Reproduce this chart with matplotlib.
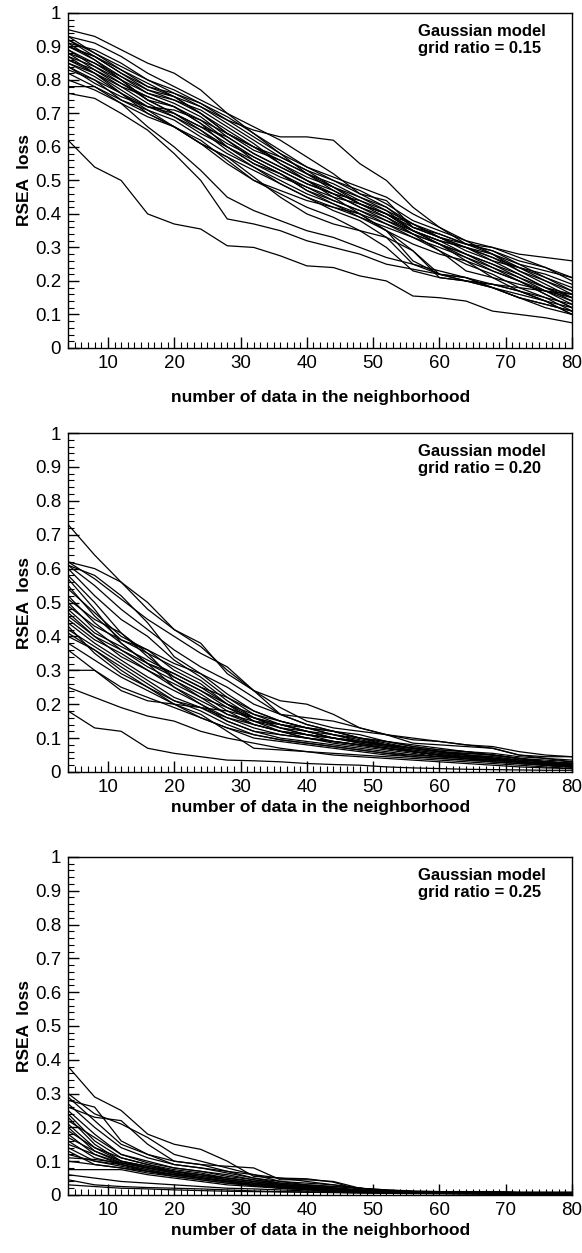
import numpy as np
import matplotlib
matplotlib.use("Agg")
import matplotlib.pyplot as plt
from matplotlib.ticker import MultipleLocator

plt.rcParams['font.family'] = ['Liberation Sans', 'DejaVu Sans']

# neighbourhood sizes (x) shared by all curves
n_data = [4, 8, 12, 16, 20, 24, 28, 32, 36, 40, 44, 48, 52, 56, 60, 64, 68, 72, 76, 80]

# grid ratio = 0.15
loss_015 = [
    [0.95, 0.93, 0.89, 0.85, 0.82, 0.77, 0.70, 0.66, 0.62, 0.57, 0.52, 0.46, 0.44, 0.36, 0.33, 0.31, 0.30, 0.28, 0.27, 0.26],
    [0.62, 0.54, 0.50, 0.40, 0.37, 0.355, 0.305, 0.30, 0.275, 0.245, 0.24, 0.215, 0.20, 0.155, 0.15, 0.14, 0.11, 0.10, 0.09, 0.075],
    [0.76, 0.745, 0.70, 0.65, 0.58, 0.50, 0.385, 0.37, 0.35, 0.32, 0.30, 0.28, 0.25, 0.235, 0.22, 0.20, 0.18, 0.15, 0.12, 0.10],
    [0.78, 0.78, 0.73, 0.66, 0.60, 0.53, 0.45, 0.41, 0.38, 0.35, 0.33, 0.30, 0.27, 0.25, 0.23, 0.21, 0.18, 0.15, 0.13, 0.11],
    [0.93, 0.88, 0.83, 0.78, 0.75, 0.70, 0.65, 0.60, 0.56, 0.52, 0.48, 0.44, 0.41, 0.37, 0.33, 0.30, 0.26, 0.22, 0.18, 0.15],
    [0.90, 0.86, 0.81, 0.76, 0.73, 0.69, 0.63, 0.58, 0.54, 0.50, 0.47, 0.43, 0.40, 0.35, 0.32, 0.28, 0.25, 0.21, 0.17, 0.13],
    [0.88, 0.83, 0.79, 0.75, 0.72, 0.67, 0.62, 0.57, 0.53, 0.49, 0.46, 0.42, 0.39, 0.34, 0.31, 0.27, 0.23, 0.20, 0.16, 0.12],
    [0.92, 0.87, 0.82, 0.77, 0.74, 0.71, 0.66, 0.61, 0.55, 0.51, 0.48, 0.45, 0.42, 0.36, 0.34, 0.31, 0.29, 0.25, 0.21, 0.17],
    [0.86, 0.82, 0.77, 0.72, 0.69, 0.64, 0.60, 0.55, 0.52, 0.48, 0.44, 0.41, 0.37, 0.33, 0.29, 0.25, 0.22, 0.18, 0.15, 0.11],
    [0.84, 0.80, 0.74, 0.70, 0.66, 0.61, 0.57, 0.53, 0.49, 0.45, 0.41, 0.38, 0.33, 0.25, 0.22, 0.21, 0.19, 0.17, 0.15, 0.13],
    [0.91, 0.89, 0.85, 0.80, 0.76, 0.72, 0.67, 0.62, 0.57, 0.53, 0.50, 0.47, 0.43, 0.38, 0.35, 0.32, 0.30, 0.27, 0.24, 0.20],
    [0.89, 0.85, 0.80, 0.76, 0.74, 0.70, 0.64, 0.59, 0.56, 0.52, 0.49, 0.45, 0.41, 0.35, 0.31, 0.26, 0.21, 0.17, 0.14, 0.10],
    [0.87, 0.84, 0.80, 0.74, 0.70, 0.66, 0.63, 0.58, 0.54, 0.50, 0.45, 0.40, 0.35, 0.29, 0.21, 0.20, 0.18, 0.15, 0.13, 0.11],
    [0.93, 0.91, 0.87, 0.82, 0.78, 0.74, 0.70, 0.64, 0.58, 0.54, 0.50, 0.46, 0.42, 0.37, 0.33, 0.30, 0.27, 0.24, 0.22, 0.19],
    [0.82, 0.78, 0.74, 0.71, 0.68, 0.63, 0.58, 0.54, 0.50, 0.46, 0.43, 0.40, 0.37, 0.34, 0.31, 0.28, 0.24, 0.20, 0.17, 0.14],
    [0.90, 0.87, 0.83, 0.79, 0.75, 0.70, 0.64, 0.60, 0.57, 0.53, 0.48, 0.43, 0.39, 0.35, 0.32, 0.30, 0.27, 0.23, 0.19, 0.15],
    [0.85, 0.81, 0.76, 0.72, 0.70, 0.66, 0.61, 0.57, 0.53, 0.49, 0.46, 0.44, 0.40, 0.35, 0.31, 0.28, 0.25, 0.22, 0.18, 0.14],
    [0.91, 0.86, 0.80, 0.74, 0.70, 0.65, 0.60, 0.56, 0.52, 0.47, 0.43, 0.39, 0.35, 0.31, 0.28, 0.26, 0.23, 0.20, 0.16, 0.12],
    [0.88, 0.85, 0.81, 0.77, 0.75, 0.72, 0.68, 0.63, 0.58, 0.52, 0.47, 0.43, 0.40, 0.36, 0.33, 0.29, 0.26, 0.24, 0.21, 0.18],
    [0.86, 0.83, 0.78, 0.73, 0.69, 0.65, 0.59, 0.54, 0.49, 0.45, 0.42, 0.39, 0.36, 0.33, 0.30, 0.27, 0.24, 0.21, 0.18, 0.16],
    [0.92, 0.88, 0.84, 0.80, 0.77, 0.73, 0.68, 0.65, 0.63, 0.63, 0.62, 0.55, 0.50, 0.42, 0.36, 0.31, 0.28, 0.24, 0.20, 0.16],
    [0.80, 0.77, 0.73, 0.69, 0.66, 0.62, 0.56, 0.50, 0.46, 0.42, 0.39, 0.35, 0.30, 0.23, 0.21, 0.20, 0.19, 0.18, 0.17, 0.16],
    [0.84, 0.79, 0.75, 0.72, 0.71, 0.68, 0.64, 0.60, 0.55, 0.50, 0.46, 0.42, 0.38, 0.34, 0.29, 0.23, 0.21, 0.19, 0.17, 0.15],
    [0.89, 0.84, 0.79, 0.74, 0.72, 0.68, 0.62, 0.56, 0.52, 0.47, 0.44, 0.41, 0.38, 0.35, 0.32, 0.30, 0.28, 0.25, 0.23, 0.21],
    [0.87, 0.82, 0.76, 0.70, 0.66, 0.61, 0.55, 0.50, 0.47, 0.44, 0.42, 0.40, 0.35, 0.26, 0.22, 0.21, 0.18, 0.16, 0.14, 0.12],
    [0.90, 0.87, 0.82, 0.78, 0.76, 0.73, 0.69, 0.64, 0.59, 0.54, 0.51, 0.48, 0.45, 0.40, 0.36, 0.32, 0.28, 0.23, 0.20, 0.17],
    [0.83, 0.80, 0.76, 0.71, 0.66, 0.61, 0.57, 0.51, 0.45, 0.40, 0.37, 0.35, 0.33, 0.29, 0.22, 0.20, 0.19, 0.17, 0.14, 0.10],
    [0.85, 0.82, 0.78, 0.75, 0.72, 0.67, 0.60, 0.55, 0.51, 0.48, 0.45, 0.43, 0.40, 0.37, 0.34, 0.31, 0.29, 0.26, 0.24, 0.21],
]

# grid ratio = 0.20
loss_020 = [
    [0.73, 0.64, 0.56, 0.48, 0.42, 0.38, 0.29, 0.24, 0.21, 0.20, 0.17, 0.13, 0.11, 0.085, 0.08, 0.075, 0.07, 0.05, 0.045, 0.045],
    [0.18, 0.13, 0.12, 0.07, 0.055, 0.045, 0.035, 0.033, 0.03, 0.025, 0.022, 0.02, 0.015, 0.012, 0.01, 0.008, 0.007, 0.006, 0.005, 0.005],
    [0.25, 0.22, 0.19, 0.165, 0.15, 0.12, 0.10, 0.085, 0.07, 0.06, 0.05, 0.045, 0.04, 0.035, 0.03, 0.025, 0.02, 0.015, 0.012, 0.01],
    [0.30, 0.30, 0.25, 0.22, 0.19, 0.16, 0.13, 0.11, 0.095, 0.085, 0.075, 0.065, 0.055, 0.045, 0.04, 0.035, 0.03, 0.025, 0.02, 0.015],
    [0.62, 0.60, 0.56, 0.50, 0.42, 0.37, 0.30, 0.24, 0.17, 0.16, 0.15, 0.13, 0.11, 0.095, 0.09, 0.08, 0.07, 0.05, 0.04, 0.03],
    [0.61, 0.58, 0.52, 0.44, 0.34, 0.29, 0.23, 0.18, 0.15, 0.13, 0.11, 0.09, 0.08, 0.07, 0.06, 0.05, 0.04, 0.03, 0.025, 0.02],
    [0.60, 0.52, 0.45, 0.40, 0.33, 0.28, 0.22, 0.17, 0.14, 0.12, 0.10, 0.09, 0.075, 0.065, 0.055, 0.045, 0.04, 0.03, 0.025, 0.02],
    [0.55, 0.46, 0.39, 0.35, 0.31, 0.27, 0.21, 0.16, 0.13, 0.12, 0.11, 0.10, 0.08, 0.06, 0.05, 0.045, 0.04, 0.03, 0.025, 0.02],
    [0.52, 0.44, 0.38, 0.32, 0.28, 0.24, 0.19, 0.15, 0.13, 0.11, 0.09, 0.08, 0.07, 0.06, 0.05, 0.04, 0.035, 0.03, 0.025, 0.02],
    [0.50, 0.42, 0.36, 0.31, 0.27, 0.23, 0.18, 0.14, 0.12, 0.10, 0.09, 0.08, 0.07, 0.06, 0.05, 0.045, 0.04, 0.03, 0.02, 0.015],
    [0.48, 0.41, 0.37, 0.33, 0.29, 0.25, 0.20, 0.16, 0.14, 0.12, 0.10, 0.085, 0.075, 0.065, 0.055, 0.05, 0.045, 0.035, 0.03, 0.025],
    [0.47, 0.40, 0.34, 0.30, 0.26, 0.22, 0.19, 0.16, 0.13, 0.11, 0.10, 0.09, 0.08, 0.07, 0.06, 0.05, 0.04, 0.03, 0.025, 0.02],
    [0.45, 0.39, 0.35, 0.30, 0.25, 0.21, 0.17, 0.14, 0.12, 0.11, 0.10, 0.085, 0.07, 0.06, 0.05, 0.04, 0.035, 0.03, 0.02, 0.015],
    [0.44, 0.38, 0.33, 0.28, 0.24, 0.20, 0.16, 0.13, 0.11, 0.10, 0.085, 0.075, 0.065, 0.055, 0.045, 0.04, 0.03, 0.025, 0.02, 0.015],
    [0.42, 0.37, 0.32, 0.27, 0.22, 0.19, 0.15, 0.12, 0.10, 0.09, 0.08, 0.07, 0.06, 0.05, 0.045, 0.04, 0.035, 0.03, 0.025, 0.02],
    [0.40, 0.36, 0.31, 0.26, 0.21, 0.18, 0.14, 0.11, 0.095, 0.085, 0.075, 0.065, 0.055, 0.05, 0.045, 0.04, 0.035, 0.03, 0.025, 0.02],
    [0.38, 0.33, 0.28, 0.24, 0.20, 0.16, 0.13, 0.10, 0.09, 0.08, 0.07, 0.06, 0.05, 0.045, 0.04, 0.035, 0.03, 0.025, 0.02, 0.015],
    [0.58, 0.50, 0.41, 0.34, 0.28, 0.24, 0.20, 0.17, 0.15, 0.13, 0.12, 0.10, 0.09, 0.075, 0.065, 0.06, 0.05, 0.04, 0.03, 0.025],
    [0.54, 0.47, 0.40, 0.36, 0.32, 0.29, 0.25, 0.20, 0.17, 0.14, 0.12, 0.10, 0.085, 0.07, 0.06, 0.055, 0.05, 0.04, 0.035, 0.03],
    [0.49, 0.43, 0.39, 0.36, 0.30, 0.26, 0.20, 0.15, 0.12, 0.10, 0.09, 0.08, 0.07, 0.06, 0.05, 0.045, 0.04, 0.035, 0.03, 0.025],
    [0.46, 0.40, 0.36, 0.32, 0.29, 0.25, 0.22, 0.18, 0.15, 0.13, 0.11, 0.095, 0.08, 0.07, 0.06, 0.055, 0.05, 0.04, 0.03, 0.025],
    [0.43, 0.35, 0.29, 0.25, 0.21, 0.19, 0.16, 0.14, 0.12, 0.11, 0.10, 0.09, 0.08, 0.07, 0.06, 0.05, 0.045, 0.035, 0.03, 0.025],
    [0.57, 0.48, 0.38, 0.32, 0.25, 0.20, 0.15, 0.12, 0.11, 0.10, 0.09, 0.08, 0.07, 0.06, 0.05, 0.04, 0.035, 0.03, 0.02, 0.015],
    [0.51, 0.45, 0.41, 0.35, 0.27, 0.22, 0.17, 0.15, 0.14, 0.13, 0.12, 0.10, 0.09, 0.075, 0.065, 0.06, 0.055, 0.045, 0.04, 0.035],
    [0.61, 0.55, 0.48, 0.42, 0.36, 0.31, 0.27, 0.22, 0.17, 0.14, 0.12, 0.11, 0.09, 0.08, 0.07, 0.06, 0.05, 0.04, 0.03, 0.025],
    [0.41, 0.36, 0.30, 0.25, 0.20, 0.17, 0.12, 0.07, 0.065, 0.06, 0.055, 0.05, 0.045, 0.04, 0.035, 0.03, 0.025, 0.02, 0.015, 0.01],
    [0.62, 0.57, 0.51, 0.45, 0.40, 0.35, 0.31, 0.24, 0.19, 0.15, 0.13, 0.12, 0.11, 0.10, 0.09, 0.08, 0.075, 0.06, 0.05, 0.045],
    [0.36, 0.30, 0.24, 0.21, 0.20, 0.19, 0.18, 0.16, 0.14, 0.12, 0.10, 0.09, 0.08, 0.07, 0.06, 0.05, 0.04, 0.03, 0.025, 0.02],
]

# grid ratio = 0.25
loss_025 = [
    [0.38, 0.29, 0.25, 0.18, 0.15, 0.135, 0.10, 0.055, 0.05, 0.048, 0.038, 0.015, 0.012, 0.01, 0.01, 0.01, 0.01, 0.008, 0.008, 0.008],
    [0.28, 0.26, 0.16, 0.12, 0.10, 0.09, 0.085, 0.08, 0.045, 0.045, 0.04, 0.02, 0.012, 0.01, 0.01, 0.01, 0.01, 0.008, 0.008, 0.008],
    [0.30, 0.24, 0.21, 0.17, 0.12, 0.10, 0.08, 0.06, 0.04, 0.03, 0.025, 0.02, 0.015, 0.01, 0.01, 0.008, 0.008, 0.007, 0.006, 0.006],
    [0.26, 0.23, 0.22, 0.15, 0.10, 0.09, 0.07, 0.05, 0.035, 0.03, 0.025, 0.02, 0.012, 0.01, 0.008, 0.008, 0.007, 0.006, 0.005, 0.005],
    [0.25, 0.18, 0.12, 0.10, 0.08, 0.07, 0.055, 0.045, 0.035, 0.028, 0.022, 0.015, 0.01, 0.008, 0.007, 0.006, 0.005, 0.005, 0.004, 0.004],
    [0.24, 0.16, 0.11, 0.09, 0.075, 0.065, 0.05, 0.04, 0.03, 0.025, 0.02, 0.015, 0.01, 0.008, 0.007, 0.006, 0.005, 0.005, 0.004, 0.004],
    [0.23, 0.15, 0.10, 0.085, 0.07, 0.06, 0.045, 0.035, 0.028, 0.022, 0.018, 0.012, 0.009, 0.008, 0.007, 0.006, 0.005, 0.004, 0.004, 0.003],
    [0.22, 0.17, 0.12, 0.095, 0.08, 0.07, 0.06, 0.045, 0.032, 0.026, 0.02, 0.014, 0.01, 0.008, 0.007, 0.006, 0.005, 0.005, 0.004, 0.004],
    [0.21, 0.14, 0.10, 0.08, 0.065, 0.055, 0.045, 0.035, 0.025, 0.02, 0.016, 0.012, 0.008, 0.007, 0.006, 0.005, 0.005, 0.004, 0.004, 0.003],
    [0.20, 0.13, 0.095, 0.08, 0.065, 0.05, 0.04, 0.03, 0.022, 0.018, 0.014, 0.01, 0.008, 0.007, 0.006, 0.005, 0.004, 0.004, 0.003, 0.003],
    [0.19, 0.14, 0.11, 0.09, 0.07, 0.06, 0.05, 0.04, 0.03, 0.024, 0.018, 0.012, 0.01, 0.008, 0.007, 0.006, 0.005, 0.004, 0.004, 0.003],
    [0.18, 0.12, 0.09, 0.075, 0.06, 0.05, 0.04, 0.03, 0.022, 0.018, 0.014, 0.01, 0.008, 0.007, 0.006, 0.005, 0.004, 0.004, 0.003, 0.003],
    [0.17, 0.13, 0.10, 0.085, 0.07, 0.055, 0.045, 0.035, 0.026, 0.02, 0.015, 0.011, 0.009, 0.008, 0.007, 0.006, 0.005, 0.004, 0.004, 0.003],
    [0.16, 0.11, 0.09, 0.07, 0.055, 0.045, 0.035, 0.028, 0.02, 0.016, 0.012, 0.009, 0.007, 0.006, 0.005, 0.005, 0.004, 0.004, 0.003, 0.003],
    [0.15, 0.12, 0.095, 0.08, 0.065, 0.05, 0.04, 0.03, 0.024, 0.018, 0.014, 0.01, 0.008, 0.007, 0.006, 0.005, 0.005, 0.004, 0.003, 0.003],
    [0.14, 0.10, 0.085, 0.07, 0.06, 0.05, 0.04, 0.03, 0.022, 0.017, 0.013, 0.009, 0.007, 0.006, 0.005, 0.005, 0.004, 0.004, 0.003, 0.003],
    [0.12, 0.10, 0.09, 0.075, 0.06, 0.05, 0.04, 0.03, 0.022, 0.018, 0.013, 0.01, 0.008, 0.007, 0.006, 0.005, 0.004, 0.004, 0.003, 0.003],
    [0.11, 0.105, 0.095, 0.08, 0.07, 0.06, 0.05, 0.04, 0.03, 0.025, 0.018, 0.012, 0.009, 0.008, 0.007, 0.006, 0.005, 0.004, 0.004, 0.003],
    [0.10, 0.09, 0.08, 0.07, 0.06, 0.05, 0.04, 0.03, 0.025, 0.02, 0.015, 0.011, 0.008, 0.007, 0.006, 0.005, 0.004, 0.004, 0.003, 0.003],
    [0.075, 0.075, 0.075, 0.06, 0.05, 0.04, 0.03, 0.025, 0.02, 0.016, 0.012, 0.009, 0.007, 0.006, 0.005, 0.005, 0.004, 0.004, 0.003, 0.003],
    [0.06, 0.05, 0.04, 0.035, 0.03, 0.025, 0.02, 0.018, 0.015, 0.012, 0.01, 0.008, 0.006, 0.005, 0.005, 0.004, 0.004, 0.003, 0.003, 0.003],
    [0.045, 0.03, 0.025, 0.022, 0.02, 0.018, 0.015, 0.012, 0.01, 0.009, 0.008, 0.006, 0.005, 0.005, 0.004, 0.004, 0.003, 0.003, 0.003, 0.002],
    [0.03, 0.025, 0.02, 0.018, 0.015, 0.013, 0.011, 0.01, 0.009, 0.008, 0.007, 0.006, 0.005, 0.004, 0.004, 0.003, 0.003, 0.003, 0.002, 0.002],
    [0.27, 0.20, 0.14, 0.11, 0.09, 0.08, 0.07, 0.06, 0.05, 0.04, 0.03, 0.02, 0.015, 0.012, 0.01, 0.009, 0.008, 0.007, 0.006, 0.005],
    [0.29, 0.22, 0.15, 0.12, 0.09, 0.08, 0.065, 0.05, 0.04, 0.035, 0.03, 0.02, 0.012, 0.01, 0.009, 0.008, 0.007, 0.006, 0.005, 0.005],
    [0.13, 0.09, 0.08, 0.065, 0.055, 0.045, 0.035, 0.028, 0.02, 0.016, 0.012, 0.009, 0.007, 0.006, 0.005, 0.004, 0.004, 0.003, 0.003, 0.002],
]

panels = [("0.15", loss_015), ("0.20", loss_020), ("0.25", loss_025)]
# axes rectangles in figure fraction: left, bottom, width, height
rects = [[0.117, 0.7223, 0.866, 0.2674],
         [0.117, 0.3839, 0.866, 0.2705],
         [0.117, 0.0463, 0.866, 0.2698]]
xlabel_pads = [13, 3, 3]

fig = plt.figure(figsize=(5.82, 12.53), dpi=100)

for (ratio, curves), rect, lpad in zip(panels, rects, xlabel_pads):
    ax = fig.add_axes(rect)
    for c in curves:
        ax.plot(n_data, c, color='black', lw=0.9)
    ax.set_xlim(4, 80)
    ax.set_ylim(0, 1)
    ax.xaxis.set_major_locator(MultipleLocator(10))
    ax.xaxis.set_minor_locator(MultipleLocator(1))
    ax.yaxis.set_major_locator(MultipleLocator(0.1))
    ax.yaxis.set_minor_locator(MultipleLocator(0.02))
    ax.yaxis.set_major_formatter(plt.FuncFormatter(lambda v, p: f"{v:g}"))
    ax.tick_params(which='major', direction='in', length=8, width=1,
                   labelsize=13.5, pad=5)
    ax.tick_params(which='minor', direction='in', length=4, width=0.8)
    for s in ax.spines.values():
        s.set_linewidth(1.0)
    ax.set_xlabel("number of data in the neighborhood", fontsize=12.5,
                  fontweight='bold', labelpad=lpad)
    ax.set_ylabel("RSEA  loss", fontsize=12.5, fontweight='bold', labelpad=2)
    ax.text(0.694, 0.968, "Gaussian model\ngrid ratio = " + ratio,
            transform=ax.transAxes, ha='left', va='top', fontsize=12,
            fontweight='bold', linespacing=1.2)

fig.savefig("out.png", dpi=100)
